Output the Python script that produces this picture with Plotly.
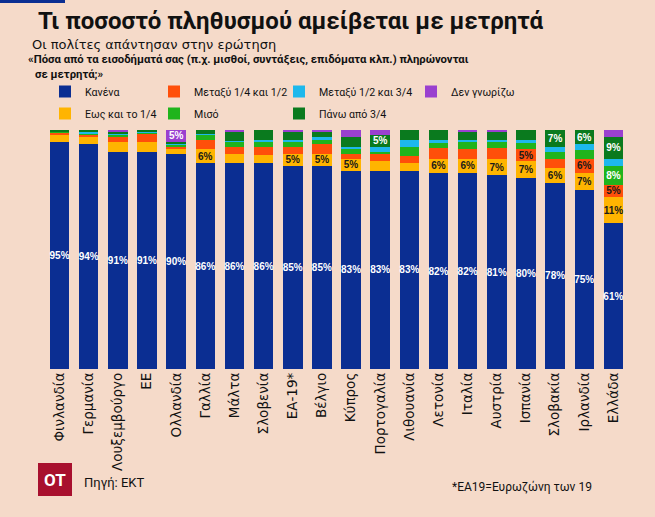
import plotly.graph_objects as go

countries = ["Φινλανδία", "Γερμανία", "Λουξεμβούργο", "ΕΕ", "Ολλανδία", "Γαλλία", "Μάλτα",
             "Σλοβενία", "ΕΑ-19*", "Βέλγιο", "Κύπρος", "Πορτογαλία", "Λιθουανία", "Λετονία",
             "Ιταλία", "Αυστρία", "Ισπανία", "Σλοβακία", "Ιρλανδία", "Ελλάδα"]

none_ = [95, 94, 91, 91, 90, 86, 86, 86, 85, 85, 83, 83, 83, 82, 82, 81, 80, 78, 75, 61]
upto_quarter = [3, 3, 4, 4, 2, 6, 4, 3.5, 5, 5, 5, 4, 3, 6, 6, 7, 7, 6, 7, 11]
quarter_half = [1, 1, 2, 3.5, 1, 4, 3, 3.5, 3, 4, 2, 3, 3, 4.5, 4, 4.5, 5, 4, 6, 5]
half = [0.5, 0.5, 1, 0.5, 1, 2, 2, 2, 2, 2, 2, 1, 4, 2, 3, 2.5, 2.5, 3, 3.5, 8]
half_3q = [0, 0.5, 0.5, 0.5, 0.5, 0.5, 0.5, 1, 1, 1, 1, 2, 3, 1.5, 1, 1, 1.5, 2, 2.5, 3]
over_3q = [0.5, 1, 0.5, 0.5, 0.5, 1.5, 4, 4, 3, 2, 4, 5, 4, 4, 3, 3, 4, 7, 6, 9]
dont_know = [0, 0, 1, 0, 5, 0, 0.5, 0, 1, 1, 3, 2, 0, 0, 1, 1, 0, 0, 0, 3]

# name, values, colour, label colour, legend id
series = [
    ("Κανένα", none_, "#0B2E92", "white", "legend", True),
    ("Εως και το 1/4", upto_quarter, "#FFB400", "#1a1a1a", "legend", False),
    ("Μεταξύ 1/4 και 1/2", quarter_half, "#FF4F0A", "#1a1a1a", "legend2", False),
    ("Μισό", half, "#20B41C", "white", "legend2", False),
    ("Μεταξύ 1/2 και 3/4", half_3q, "#1DB8EC", "white", "legend3", False),
    ("Πάνω από 3/4", over_3q, "#0A7A1E", "white", "legend3", False),
    ("Δεν γνωρίζω", dont_know, "#9A40CF", "white", "legend4", False),
]

BG = "#F5DAC9"
W, H = 655, 517
L, R, T, B = 45, 27, 130, 148
PW, PH = W - L - R, H - T - B


def px2x(px):
    return (px - L) / PW


def py2y(py):
    return (H - B - py) / PH


fig = go.Figure()
for i, (name, vals, color, tcol, leg, always) in enumerate(series):
    txt = [f"{round(v)}%" if (always or v >= 5) else "" for v in vals]
    fig.add_trace(go.Bar(
        x=countries, y=vals, name=name, marker=dict(color=color, line=dict(width=0)),
        text=txt, texttemplate="%{text}", textposition="inside", insidetextanchor="middle",
        textangle=0, constraintext="none",
        textfont=dict(color=tcol, size=10, family="Liberation Sans", weight="bold"),
        legend=leg, legendgroup=name, legendrank=i, hoverinfo="skip",
    ))

leg_font = dict(size=10.6, color="#111", family="Roboto")
leg_common = dict(orientation="v", xref="container", yref="container", xanchor="left",
                  yanchor="top", traceorder="grouped", font=leg_font,
                  bgcolor="rgba(0,0,0,0)", itemclick=False, tracegroupgap=3)
legend_top = 1 - 77 / H

fig.update_layout(
    width=W, height=H, barmode="stack", bargap=0.33,
    paper_bgcolor=BG, plot_bgcolor=BG,
    margin=dict(l=L, r=R, t=T, b=B, autoexpand=False),
    font=dict(family="Roboto, Noto Sans, sans-serif", color="#111"),
    showlegend=True,
    legend=dict(x=45 / W, y=legend_top, **leg_common),
    legend2=dict(x=154 / W, y=legend_top, **leg_common),
    legend3=dict(x=279 / W, y=legend_top, **leg_common),
    legend4=dict(x=411 / W, y=legend_top, **leg_common),
    xaxis=dict(tickangle=-90, tickfont=dict(size=13.5, color="#111", family="DejaVu Sans"),
               showgrid=False, showline=False, ticks="", zeroline=False, automargin=False),
    yaxis=dict(range=[0, 100], visible=False, showgrid=False, zeroline=False),
)

annotations = [
    dict(text="<b>Τι ποσοστό πληθυσμού αμείβεται με μετρητά</b>", x=px2x(36), y=py2y(21),
         font=dict(size=24, color="#111")),
    dict(text="Οι πολίτες απάντησαν στην ερώτηση", x=px2x(30), y=py2y(44),
         font=dict(size=13, color="#111", family="DejaVu Sans")),
    dict(text="<b>«Πόσα από τα εισοδήματά σας (π.χ. μισθοί, συντάξεις, επιδόματα κλπ.) πληρώνονται</b>",
         x=px2x(26), y=py2y(59), font=dict(size=11.3, color="#111")),
    dict(text="<b>σε μετρητά;»</b>", x=px2x(33), y=py2y(74), font=dict(size=11.3, color="#111")),
    dict(text="<b>OT</b>", x=px2x(55), y=py2y(480), xanchor="center",
         font=dict(size=17, color="white")),
    dict(text="Πηγή: ΕΚΤ", x=px2x(82), y=py2y(482), font=dict(size=13, color="#111")),
    dict(text="*ΕΑ19=Ευρωζώνη των 19", x=px2x(450), y=py2y(487), font=dict(size=12, color="#111")),
]
for a in annotations:
    a.setdefault("xanchor", "left")
    fig.add_annotation(xref="paper", yref="paper", yanchor="middle", showarrow=False, **a)

fig.add_shape(type="rect", xref="paper", yref="paper", x0=px2x(38), x1=px2x(72),
              y0=py2y(496), y1=py2y(463), fillcolor="#A8102E", line=dict(width=0), layer="below")
fig.add_shape(type="rect", xref="paper", yref="paper", x0=px2x(0), x1=px2x(65),
              y0=py2y(3), y1=py2y(0), fillcolor="#0B2E92", line=dict(width=0))

fig.write_html("out.html", config={"displayModeBar": False},
               post_script="document.body.style.margin='0';document.body.style.background='%s';" % BG)
